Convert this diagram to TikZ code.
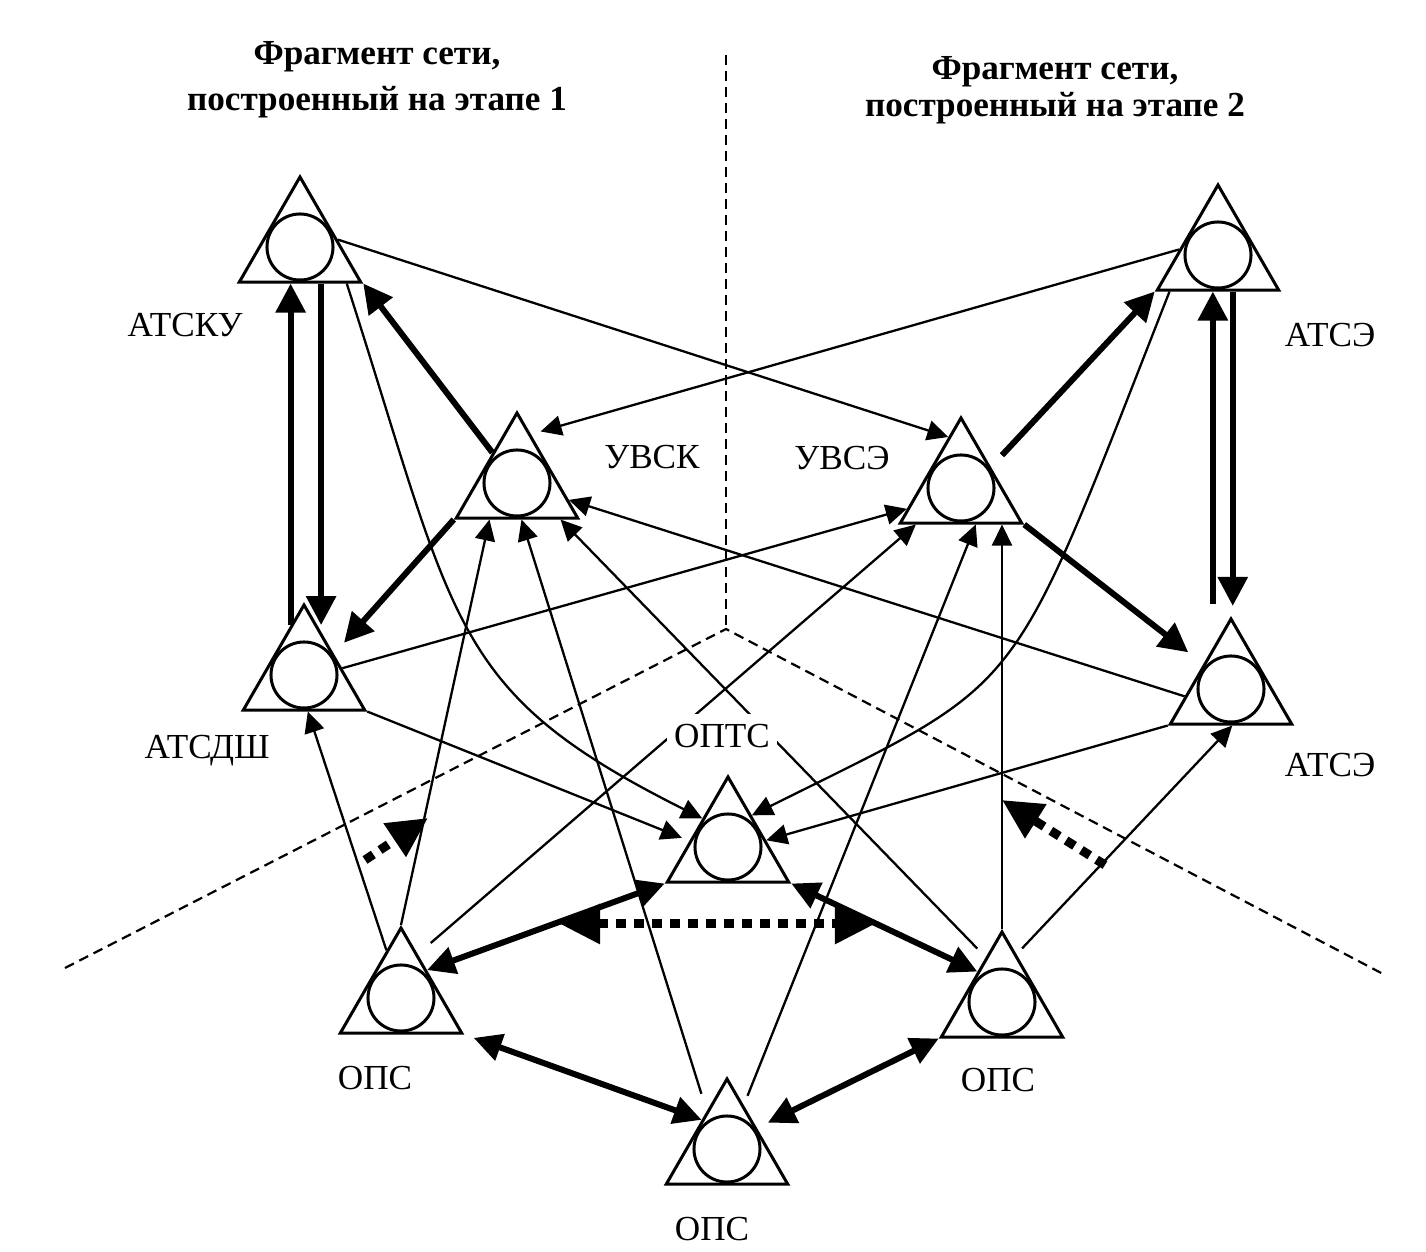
\documentclass[tikz,border=0pt]{standalone}
\usepackage{fontspec}
\setmainfont{Liberation Serif}
\usetikzlibrary{arrows.meta,shapes.geometric,positioning,calc}

\tikzset{
  station/.style={regular polygon, regular polygon sides=3, draw, line width=0.03cm,
    minimum size=1.4cm, inner sep=0pt},
  ring/.style={draw, line width=0.03cm},
  tag/.style={font=\fontsize{10}{12}\selectfont, inner sep=0.04cm},
  heading/.style={font=\fontsize{10}{13}\selectfont\bfseries, align=center},
  link/.style={line width=0.023cm, -{Triangle[length=0.21cm,width=0.2cm]}},
  trunk/.style={line width=0.06cm, -{Triangle[length=0.29cm,width=0.29cm]}},
  duplex/.style={line width=0.06cm,
    {Triangle[length=0.28cm,width=0.27cm]}-{Triangle[length=0.28cm,width=0.27cm]}},
  backup/.style={line width=0.09cm, dash pattern=on 0.1cm off 0.08cm},
  bigtip/.style={-{Triangle[length=0.4cm,width=0.38cm]}},
  zone/.style={line width=0.022cm, dash pattern=on 0.1cm off 0.06cm}
}

\begin{document}
\begin{tikzpicture}[x=0.01cm, y=-0.01cm]
\useasboundingbox (0,0) rectangle (1426,1252);

% headings
\node[heading] (head1) at (377,80) {Фрагмент сети,\\построенный на этапе 1};
\node[heading] (head2) at (1055,90) {Фрагмент сети,\\[-0.09cm]построенный на этапе 2};

% zone borders
\coordinate (hub) at (726,629);
\draw[zone] (726,55) -- (hub);
\draw[zone] (65,968) -- (hub) -- (1385,975);

% stations
\node[station] (atsku)  at (300,247)  {};
\node[station] (uvsk)   at (517,483)  {};
\node[station] (uvse)   at (961,488)  {};
\node[station] (atse)   at (1218,255) {};
\node[station] (atsdsh) at (304,675)  {};
\node[station] (atsel)  at (1231,689) {};
\node[station] (opts)   at (728,847)  {};
\node[station] (opsl)   at (401,998)  {};
\node[station] (opsb)   at (727,1149) {};
\node[station] (opsr)   at (1002,1002) {};
\foreach \s in {atsku,uvsk,uvse,atse,atsdsh,atsel,opts,opsl,opsb,opsr}
  \draw[ring] (\s.center) circle (0.33cm);

% thick links, stage 1
\draw[trunk] (atsdsh.105) -- (atsdsh.105 |- atsku.south);
\draw[trunk] (atsku.-60) -- (atsku.-60 |- atsdsh.75);
\draw[trunk] (uvsk.129) -- (atsku.corner 3);
\draw[trunk, shorten >=0.15cm] (uvsk.corner 2) -- (atsdsh.35);
% thick links, stage 2
\draw[trunk, shorten <=0.16cm] (uvse.35) -- (atse.corner 2);
\draw[trunk, shorten >=0.19cm] (uvse.corner 3) -- (atsel.138);
\draw[trunk, shorten <=0.12cm] (atsel.north -| atse.-98) -- (atse.-98);
\draw[trunk, shorten >=0.1cm] (atse.-68) -- (atse.-68 |- atsel.north);

% thin links
\draw[link] (atsku.11) -- (uvse.104);
\draw[link, shorten >=0.1cm] (atse.172) -- (uvsk.74);
\draw[link] (atsku.-38) .. controls +(110,342) and +(-254,-127) .. (opts.132);
\draw[link] (atse.-143) .. controls +(-163,415) and +(279,-139) .. (opts.53);
\draw[link, shorten >=0.08cm] (atsdsh.corner 3) -- (opts.171);
\draw[link] (atsel.corner 2) -- (opts.10);
\draw[link] (atsel.189) -- (uvsk.-18);
\draw[link] (atsdsh.10) -- (uvse.201);
\draw[link] (opsl.north) -- (uvsk.-127);
\draw[link] (opsl.107) -- (atsdsh.-84);
\draw[link, shorten <=0.17cm] (opsl.69) -- (uvse.-141);
\draw[link, shorten <=0.18cm] (opsb.118) -- (uvsk.-83);
\draw[link, shorten <=0.1cm] (opsb.69) -- (uvse.-68);
\draw[link] (opsr.north) -- (opsr.north |- uvse.south);
\draw[link, shorten <=0.08cm] (opsr.73) -- (atsel.-88);
\draw[link, shorten <=0.12cm] (opsr.110) -- (uvsk.-40);

% lower ring
\draw[duplex] (opsl.47) -- (opts.corner 2);
\draw[duplex] (opts.corner 3) -- (opsr.129);
\draw[duplex, shorten <=0.1cm] (opsl.corner 3) -- (opsb.131);
\draw[duplex, shorten <=0.12cm] (opsb.35) -- (opsr.corner 2);

% reserve routes
\coordinate (bk1a) at (560,924);
\coordinate (bk1b) at (875,924);
\draw[backup, {Triangle[length=0.4cm,width=0.38cm]}-{Triangle[length=0.4cm,width=0.38cm]}] (bk1a) -- (bk1b);
\coordinate (bk2a) at (365,860);
\coordinate (bk2b) at (428,818);
\draw[backup, bigtip] (bk2a) -- (bk2b);
\coordinate (bk3a) at (1105,865);
\coordinate (bk3b) at (1002,800);
\draw[backup, bigtip] (bk3a) -- (bk3b);

% labels
\node[tag] (l-atsku)  at ($(atsku)+(-115,78)$)  {АТСКУ};
\node[tag] (l-uvsk)   at ($(uvsk)+(135,-26)$)   {УВСК};
\node[tag] (l-uvse)   at ($(uvse)+(-119,-30)$)  {УВСЭ};
\node[tag] (l-atse)   at ($(atse)+(112,80)$)    {АТСЭ};
\node[tag] (l-atsdsh) at ($(atsdsh)+(-97,76)$)  {АТСДШ};
\node[tag] (l-atsel)  at ($(atsel)+(99,76)$)    {АТСЭ};
\node[tag, fill=white, inner xsep=0.07cm, inner ysep=0.1cm] (l-opts) at ($(opts)+(-6,-111)$) {ОПТС};
\node[tag] (l-opsl)   at ($(opsl)+(-26,80)$)    {ОПС};
\node[tag] (l-opsb)   at ($(opsb)+(-15,80)$)    {ОПС};
\node[tag] (l-opsr)   at ($(opsr)+(-4,78)$)     {ОПС};
\end{tikzpicture}
\end{document}
